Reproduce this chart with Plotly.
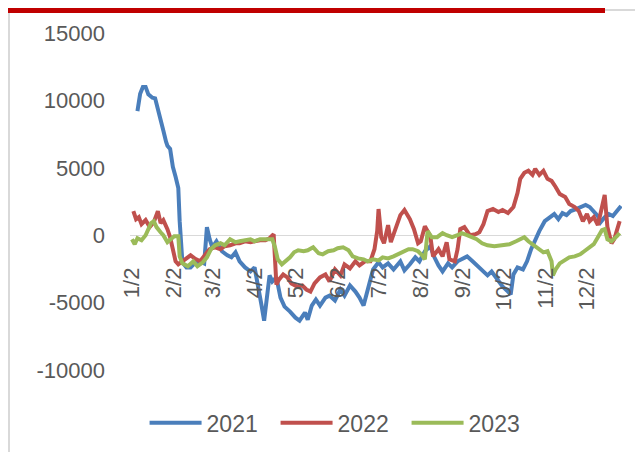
import pandas as pd
import plotly.graph_objects as go

# ---- data (day-of-year positions and values) ----
days_2021 = [6, 8, 10, 12, 14, 17, 19, 20, 23, 25, 27, 28, 30, 32, 34, 36, 37, 39, 42, 45,
             48, 52, 55, 57, 59, 61, 64, 68, 72, 75, 78, 81, 85, 89, 92, 95, 97, 99, 101, 103,
             105, 108, 111, 114, 118, 122, 125, 129, 131, 134, 137, 140, 144, 147, 151, 155, 158, 162, 166, 169,
             172, 175, 179, 183, 186, 190, 194, 199, 202, 206, 210, 213, 217, 221, 224, 227, 230, 234, 237, 241,
             244, 248, 252, 255, 259, 263, 266, 270, 274, 278, 280, 282, 285, 289, 292, 295, 298, 301, 305, 309,
             312, 315, 318, 321, 324, 328, 332, 335, 338, 341, 344, 346, 349, 352, 355, 358, 361]
vals_2021 = [9200, 10500, 11000, 11000, 10450, 10200, 10150, 9770, 8800, 7760, 6940, 6640, 6400, 5070, 4330, 3500, 1040, -2000, -2390, -2390,
             -2090, -1940, -2090, 600, -300, -900, -450, -1190, -1490, -1640, -1270, -1940, -2390, -2690, -2390, -3880, -5150, -6340, -4770, -2980,
             -3430, -3130, -4630, -5300, -5670, -6120, -6340, -5740, -6270, -5220, -4770, -5220, -4630, -4480, -4850, -4030, -4480, -3730, -4180, -4630,
             -5220, -4180, -2540, -2010, -2390, -2090, -2540, -1940, -2610, -2160, -1640, -1940, -1190, -820, -1640, -2240, -2690, -2090, -2390, -1940,
             -1790, -1570, -1940, -2240, -2540, -2980, -2690, -3280, -3800, -4180, -4400, -2910, -2390, -2540, -1940, -1040, -300, 300, 1040, 1340,
             1570, 1190, 1640, 1490, 1790, 1940, 2090, 2240, 2090, 1790, 1420, 970, 1340, 1570, 1420, 1790, 2160]

days_2022 = [3, 5, 7, 9, 12, 15, 18, 21, 23, 25, 28, 30, 32, 34, 36, 39, 42, 45, 48, 52,
             56, 59, 63, 67, 70, 74, 78, 81, 85, 89, 92, 96, 100, 103, 106, 108, 110, 113, 116, 119,
             123, 127, 130, 133, 136, 140, 144, 147, 151, 155, 158, 162, 166, 169, 173, 177, 180, 182, 183, 185,
             187, 190, 192, 195, 199, 202, 206, 209, 212, 214, 217, 221, 223, 227, 230, 233, 235, 239, 241, 243,
             246, 250, 254, 257, 260, 263, 267, 271, 274, 278, 282, 285, 287, 290, 293, 296, 298, 301, 304, 307,
             310, 313, 316, 320, 323, 327, 330, 333, 336, 338, 341, 344, 347, 349, 351, 354, 356, 358, 360]
vals_2022 = [1790, 1190, 1340, 820, 1120, 600, 970, 1790, 900, 1120, 450, -150, -1040, -1940, -2160, -1940, -1640, -1490, -1720, -1940,
             -1420, -1040, -900, -1040, -820, -750, -600, -600, -450, -520, -450, -370, -370, -220, 70, -3660, -3280, -2910, -3130, -3580,
             -3800, -3730, -4030, -4180, -3580, -3130, -2910, -3430, -2540, -2980, -2160, -2460, -1940, -2240, -1940, -1940, -1040, 300, 1940, -150,
             -600, 750, -520, 300, 1490, 1870, 1190, 450, -600, -450, 670, -70, -1570, -1040, -1570, -520, -1790, -1940, -1040, 450,
             600, 0, 70, 220, 820, 1790, 1940, 1720, 1870, 1640, 2090, 3130, 4180, 4630, 4780, 4480, 4920, 4480, 4780, 4180,
             4030, 3580, 3060, 2830, 2310, 2090, 1790, 1040, 1570, 1040, 1340, 750, 2240, 2980, 600, -600, -300, 450, 1040]

days_2023 = [2, 4, 6, 9, 12, 14, 16, 18, 20, 23, 25, 28, 30, 33, 36, 37, 39, 43, 47, 50,
             54, 57, 60, 63, 67, 70, 74, 78, 81, 85, 89, 92, 96, 100, 105, 107, 109, 112, 115, 118,
             121, 124, 128, 131, 135, 139, 142, 146, 150, 153, 157, 161, 164, 168, 172, 175, 179, 183, 186, 190,
             194, 197, 201, 205, 208, 212, 215, 217, 219, 222, 226, 230, 233, 237, 241, 244, 248, 252, 255, 259,
             263, 268, 274, 279, 284, 287, 290, 293, 296, 300, 304, 307, 310, 311, 313, 316, 320, 323, 327, 331,
             334, 338, 341, 344, 347, 349, 351, 354, 356, 358, 360]
vals_2023 = [-300, -670, -220, -370, 0, 450, 900, 1040, 600, 220, 0, -520, -300, -70, -70, -1570, -2090, -2310, -1940, -2310,
             -2010, -1640, -1040, -750, -600, -750, -300, -520, -450, -370, -300, -450, -300, -300, -300, -900, -1790, -2160, -1940, -1640,
             -1270, -1120, -1190, -1120, -900, -1340, -1420, -1190, -1120, -970, -900, -1120, -1570, -1720, -1790, -1940, -1790, -1870, -1640, -1720,
             -1570, -1420, -1190, -1040, -1040, -1190, -1490, -1790, 300, -150, -150, 150, 0, -150, 0, 150, 0, -150, -300, -600,
             -750, -820, -750, -670, -450, -300, -150, -450, -670, -1040, -1270, -1190, -1940, -2980, -2540, -2090, -1790, -1640, -1570, -1420,
             -1190, -900, -670, -150, 370, 450, -300, -450, -300, -70, 150]

series_names = ["2021", "2022", "2023"]
series_colors = ["#4a7ebb", "#c0504d", "#9bbb59"]

tick_dates = ["2021-01-02", "2021-02-02", "2021-03-02", "2021-04-02", "2021-05-02", "2021-06-02",
              "2021-07-02", "2021-08-02", "2021-09-02", "2021-10-02", "2021-11-02", "2021-12-02"]
tick_labels = ["1/2", "2/2", "3/2", "4/2", "5/2", "6/2", "7/2", "8/2", "9/2", "10/2", "11/2", "12/2"]

y_ticks = [-10000, -5000, 0, 5000, 10000, 15000]
y_labels = ["-10000", "-5000", "0", "5000", "10000", "15000"]

base = pd.Timestamp("2021-01-01")


def to_dates(days):
    return [base + pd.Timedelta(days=d - 1) for d in days]


fig = go.Figure()
for name, color, d, v in zip(series_names, series_colors,
                             [days_2021, days_2022, days_2023],
                             [vals_2021, vals_2022, vals_2023]):
    fig.add_trace(go.Scatter(x=to_dates(d), y=v, mode="lines", name=name,
                             line=dict(color=color, width=4)))

font_main = dict(family="Liberation Sans, Arial, sans-serif", size=22, color="#595959")
font_legend = dict(family="Liberation Sans, Arial, sans-serif", size=23, color="#595959")

# page has an 8px body margin; plot area is 492 x 337 px
L, T, PW, PH = 122, 25, 492, 337

fig.update_layout(
    width=643, height=452,
    margin=dict(l=L, r=643 - L - PW, t=T, b=452 - T - PH),
    paper_bgcolor="white", plot_bgcolor="white",
    font=font_main,
    showlegend=True,
    legend=dict(orientation="h", x=0.429, xanchor="center", y=-0.157, yanchor="middle",
                font=font_legend, itemwidth=52, entrywidth=64, entrywidthmode="pixels",
                bgcolor="rgba(0,0,0,0)"),
    xaxis=dict(
        type="date",
        range=["2020-12-31 13:00", "2021-12-27 17:00"],
        tickvals=tick_dates, ticktext=tick_labels,
        tickangle=-90, showgrid=False, zeroline=False,
        showline=False, ticks="",
        anchor="free", position=0.4,
        ticklabelstandoff=27,
        tickfont=font_main,
    ),
    yaxis=dict(
        range=[-10000, 15000],
        tickvals=y_ticks, ticktext=y_labels,
        showgrid=False, zeroline=True, zerolinecolor="#d9d9d9", zerolinewidth=1,
        showline=False, ticks="", ticklabelstandoff=24,
        tickfont=font_main,
    ),
)


def px_x(p):
    return (p - 8 - L) / PW


def px_y(p):
    return (T + PH - (p - 8)) / PH


# decorative frame: red bar at top, grey rule continuing, thin grey left line
fig.add_shape(type="rect", xref="paper", yref="paper",
              x0=px_x(0), x1=px_x(605), y0=px_y(13), y1=px_y(8),
              fillcolor="#c00000", line=dict(width=0), layer="above")
fig.add_shape(type="line", xref="paper", yref="paper",
              x0=px_x(605), x1=px_x(660), y0=px_y(10), y1=px_y(10),
              line=dict(color="#d9d9d9", width=2))
fig.add_shape(type="line", xref="paper", yref="paper",
              x0=px_x(9), x1=px_x(9), y0=px_y(470), y1=px_y(13),
              line=dict(color="#d9d9d9", width=2))

fig.write_html("out.html")
